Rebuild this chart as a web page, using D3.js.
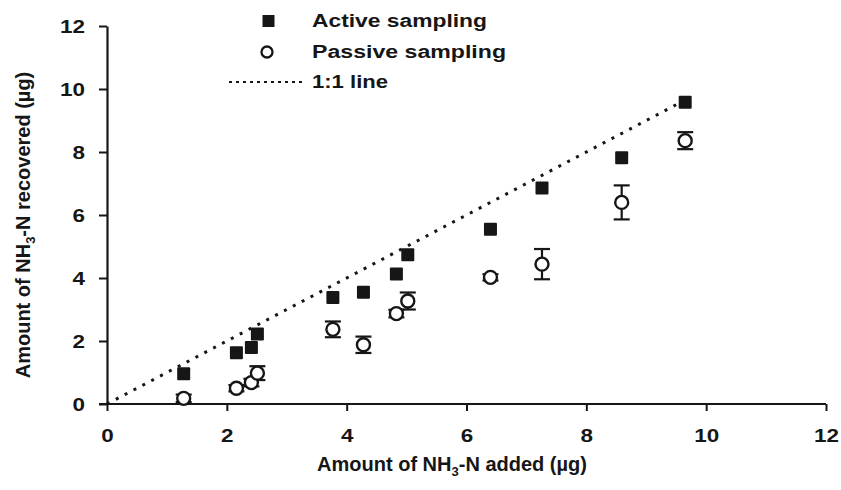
<!DOCTYPE html>
<html>
<head>
<meta charset="utf-8">
<script src="https://cdn.jsdelivr.net/npm/d3@7"></script>
<style>
  html, body { margin: 0; padding: 0; background: #fff; }
  svg { display: block; font-family: "Liberation Sans", Arial, sans-serif; font-weight: bold; }
</style>
</head>
<body>
<svg id="chart" width="841" height="490"></svg>
<script>
// NH3-N added vs. recovered (µg)
const added        = [1.28, 2.16, 2.41, 2.51, 3.77, 4.28, 4.83, 5.02, 6.40, 7.26, 8.59, 9.65];
const activeRec    = [0.96, 1.63, 1.79, 2.22, 3.38, 3.55, 4.13, 4.74, 5.55, 6.86, 7.82, 9.58];
const passiveRec   = [0.18, 0.50, 0.68, 0.98, 2.37, 1.88, 2.87, 3.27, 4.02, 4.44, 6.40, 8.36];
const passiveErr   = [0.12, 0.10, 0.12, 0.22, 0.25, 0.26, 0.12, 0.27, 0.10, 0.48, 0.54, 0.27];
const oneToOne     = [0, 9.65];
const xTicks       = [0, 2, 4, 6, 8, 10, 12];
const yTicks       = [0, 2, 4, 6, 8, 10, 12];
const legendLabels = ["Active sampling", "Passive sampling", "1:1 line"];

const ink = "#161616";
const svg = d3.select("#chart");

const x = d3.scaleLinear().domain([0, 12]).range([107, 826]);
const y = d3.scaleLinear().domain([0, 12]).range([404, 26]);

// axes
const xAxis = d3.axisBottom(x).tickValues(xTicks).tickSize(7).tickSizeOuter(0).tickPadding(18);
const yAxis = d3.axisLeft(y).tickValues(yTicks).tickSize(8).tickSizeOuter(0).tickPadding(14);

const gx = svg.append("g").attr("transform", `translate(0,${y(0)})`).call(xAxis);
const gy = svg.append("g").attr("transform", `translate(${x(0)},0)`).call(yAxis);

[gx, gy].forEach(g => {
  g.select(".domain").attr("stroke", ink).attr("stroke-width", 2.2);
  g.selectAll(".tick line").attr("stroke", ink).attr("stroke-width", 2);
  g.selectAll(".tick text")
    .attr("fill", ink)
    .style("font-family", "'Liberation Sans', Arial, sans-serif")
    .style("font-weight", "bold")
    .style("font-size", "19px")
    .attr("textLength", function () { return this.textContent.length * 12.5; })
    .attr("lengthAdjust", "spacingAndGlyphs");
});
// x axis line runs slightly left under the y axis
gx.select(".domain").attr("d", `M${x(0) - 8},0H${x(12)}`);

// axis titles with subscript 3
function titleWithSub(sel, before, sub, after) {
  sel.append("tspan").text(before);
  sel.append("tspan").attr("dy", 5).style("font-size", "13px").text(sub);
  sel.append("tspan").attr("dy", -5).text(after);
}

const xt = svg.append("text")
  .attr("x", 452).attr("y", 471)
  .attr("text-anchor", "middle")
  .attr("fill", ink).style("font-size", "20px");
titleWithSub(xt, "Amount of NH", "3", "-N added (µg)");

const yt = svg.append("text")
  .attr("transform", "translate(30,225) rotate(-90)")
  .attr("text-anchor", "middle")
  .attr("fill", ink).style("font-size", "20px");
titleWithSub(yt, "Amount of NH", "3", "-N recovered (µg)");

// 1:1 reference line
svg.append("line")
  .attr("x1", x(oneToOne[0])).attr("y1", y(oneToOne[0]))
  .attr("x2", x(oneToOne[1])).attr("y2", y(oneToOne[1]))
  .attr("stroke", ink).attr("stroke-width", 3)
  .attr("stroke-dasharray", "3,7");

// passive sampling: error bars then open circles
const passive = added.map((a, i) => ({ a, v: passiveRec[i], e: passiveErr[i] }));
const eb = svg.append("g").attr("stroke", ink).attr("stroke-width", 2.2);
passive.forEach(d => {
  const cx = x(d.a), top = y(d.v + d.e), bot = y(d.v - d.e);
  eb.append("line").attr("x1", cx).attr("x2", cx).attr("y1", top).attr("y2", bot);
  eb.append("line").attr("x1", cx - 8).attr("x2", cx + 8).attr("y1", top).attr("y2", top);
  eb.append("line").attr("x1", cx - 8).attr("x2", cx + 8).attr("y1", bot).attr("y2", bot);
});
svg.append("g").selectAll("circle").data(passive).join("circle")
  .attr("cx", d => x(d.a)).attr("cy", d => y(d.v)).attr("r", 6.5)
  .attr("fill", "#fff").attr("stroke", ink).attr("stroke-width", 2.4);

// active sampling: filled squares
const active = added.map((a, i) => ({ a, v: activeRec[i] }));
svg.append("g").selectAll("rect").data(active).join("rect")
  .attr("x", d => x(d.a) - 6.5).attr("y", d => y(d.v) - 6.5)
  .attr("width", 13).attr("height", 13).attr("rx", 1)
  .attr("fill", ink);

// legend
const lg = svg.append("g");
lg.append("rect").attr("x", 262.5).attr("y", 15).attr("width", 12).attr("height", 12).attr("fill", ink);
lg.append("circle").attr("cx", 267).attr("cy", 52).attr("r", 5.5)
  .attr("fill", "#fff").attr("stroke", ink).attr("stroke-width", 2.3);
lg.append("line").attr("x1", 229).attr("x2", 303).attr("y1", 82).attr("y2", 82)
  .attr("stroke", ink).attr("stroke-width", 2).attr("stroke-dasharray", "3,4");

const legendY = [21, 52, 82];
const legendW = [175, 194, 76];
legendLabels.forEach((t, i) => {
  lg.append("text")
    .attr("x", 312).attr("y", legendY[i])
    .attr("dominant-baseline", "central")
    .attr("fill", ink).style("font-size", "18px")
    .attr("textLength", legendW[i]).attr("lengthAdjust", "spacingAndGlyphs")
    .text(t);
});
</script>
</body>
</html>
